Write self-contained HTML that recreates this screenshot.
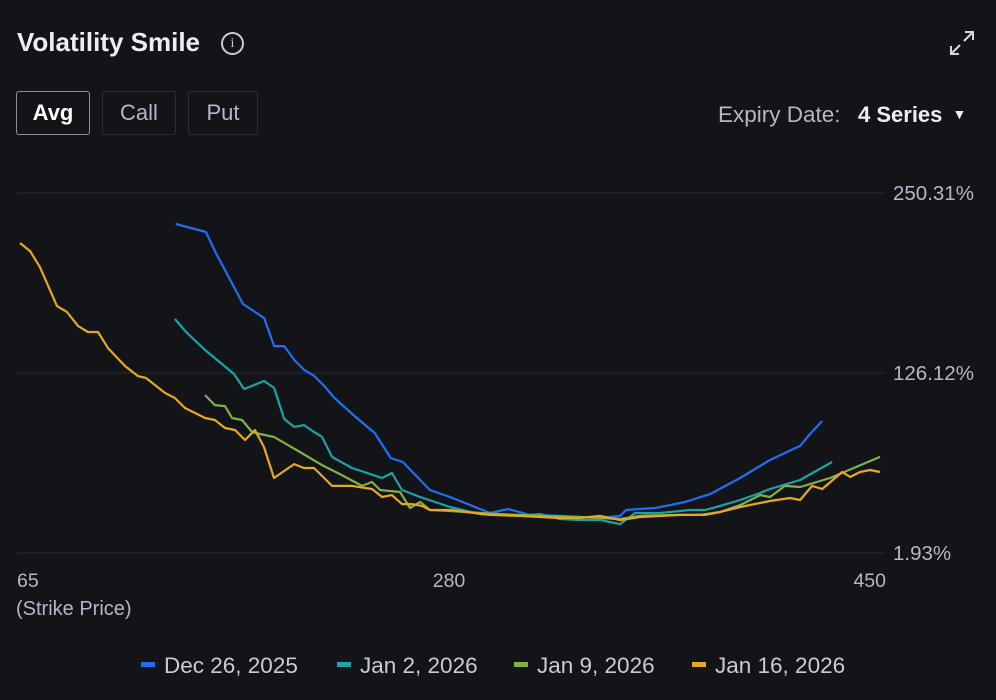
<!DOCTYPE html>
<html><head><meta charset="utf-8">
<style>
body{margin:0;background:#131418;width:996px;height:700px;overflow:hidden;font-family:"Liberation Sans",sans-serif;position:relative;color:#e8eaef}
.abs{position:absolute}
.btn{position:absolute;top:91px;height:44px;border:1.5px solid #2c2f36;border-radius:3px;box-sizing:border-box;color:#b3b8c2;font-size:22px;line-height:41px;text-align:center}
</style></head><body>
<div class="abs" style="left:17px;top:27px;font-size:26px;font-weight:bold;color:#eceef2">Volatility Smile</div>
<div class="abs" style="left:221px;top:32px;width:19px;height:19px;border:2px solid #c8ccd4;border-radius:50%;color:#c8ccd4;font-size:14px;line-height:19px;text-align:center;font-family:'Liberation Serif',serif">i</div>
<svg class="abs" style="left:948px;top:29px" width="28" height="28" viewBox="0 0 28 28"><path d="M17 3h8v8M25 3l-9 9M11 25H3v-8M3 25l9-9" stroke="#d5d8de" stroke-width="2" fill="none"/></svg>
<div class="btn" style="left:16px;width:74px;border-color:#8a9099;color:#fff;font-weight:bold">Avg</div>
<div class="btn" style="left:102px;width:74px">Call</div>
<div class="btn" style="left:188px;width:70px">Put</div>
<div class="abs" style="left:718px;top:102px;font-size:22.5px;color:#b3b8c2">Expiry Date:</div>
<div class="abs" style="left:858px;top:102px;font-size:22px;font-weight:bold;color:#eceef2">4 Series <span style="font-size:14px;position:relative;top:-3px;left:4px">▼</span></div>
<svg id="chart" class="abs" style="left:0;top:0" width="996" height="700"></svg>
<script>
const yTicks=[250.31,126.12,1.93];
const xTicks=[65,280,450];
const seriesNames=["Dec 26, 2025","Jan 2, 2026","Jan 9, 2026","Jan 16, 2026"];
const seriesColors=["#1f6ff2","#1aa3a8","#7cb342","#e8a720"];
const dec26Strikes=[144,159,164,177.5,188,193,198,203,208,213,218,223,233,243,251,257,270.5,280.4,296.2,303.3,312,323.8,339.6,347.5,349.8,355.3,361.3,367.2,373.1,383,394.8,406.6,418.5,422.4,427.2];
const dec26Values=[228.9,223.4,208.9,173.7,164.1,144.7,144.7,135.1,128.2,124.0,117.1,108.9,96.4,84.7,67.5,64.7,45.4,40.6,29.5,32.3,28.2,27.5,26.1,27.5,31.6,32.3,33.0,35.0,37.1,42.6,53.7,66.1,75.8,84.0,93.0];
const jan2Strikes=[143.6,149.1,158.6,173,178,188,193,198,202.9,207.9,212.8,216.8,221.8,231.7,246.7,251.6,256.6,265.6,280.4,292.2,300.1,308,315.9,323.8,331.7,339.6,347.5,353.4,363.2,375.1,381,386.9,394.8,402.7,406.6,418.5,431.1];
const jan2Values=[163.4,154.5,142.0,125.4,115.1,120.6,115.8,94.4,88.9,90.2,85.4,82.0,68.2,60.6,53.7,57.1,45.4,40.6,33.7,28.8,28.2,27.5,28.8,25.4,24.7,24.7,21.9,29.5,29.5,31.6,31.6,34.4,38.5,43.3,46.1,52.3,64.7];
const jan9Strikes=[158.6,163.5,168.5,172,177,182,186,193,205.8,216.8,226.7,236.7,241.7,245.7,255.6,260.6,265.6,270.5,280.4,300.1,315.9,331.7,347.5,355.3,371.1,379,386.9,394.8,402.7,406.6,412.5,418.5,430.3,450];
const jan9Values=[110.9,104.0,103.3,95.1,93.7,85.4,84.0,81.9,71.6,62.6,55.7,48.2,50.9,45.4,44.0,33.0,37.1,31.6,30.9,28.8,27.5,26.8,25.4,27.5,28.2,28.2,30.2,35.0,41.9,40.6,48.2,47.5,53.7,68.2];
const jan16Strikes=[66.5,71.5,76.4,84.9,89.9,95.4,100.3,105.3,110.3,118.8,125.2,129.2,138.7,143.6,148.6,158.6,163.5,168.5,173.5,178.5,183.4,187.9,192.9,202.9,207.8,212.8,221.8,231.7,241.7,246.7,251.6,256.6,261.6,266.6,270.5,280.4,296.2,308,315.9,323.8,331.7,339.6,347.5,355.3,371.1,381,386.9,394.8,406.6,414.5,418.5,423.2,427.2,435.1,438.2,442.1,446.1,450];
const jan16Values=[215.8,210.2,199.2,172.3,168.2,158.5,154.4,154.4,143.3,130.9,124.0,122.7,112.3,108.9,102.0,95.1,93.7,88.2,86.8,79.9,86.8,75.1,53.7,63.3,60.6,60.6,48.2,48.2,46.1,40.6,41.9,35.7,35.7,34.4,31.6,31.6,28.2,27.5,26.8,26.1,26.1,27.5,24.7,26.8,28.2,28.2,30.2,33.7,37.8,39.9,38.5,48.2,46.1,57.8,54.4,57.8,59.2,57.8];

const NS="http://www.w3.org/2000/svg";
const svg=document.getElementById('chart');
const xDom=[65,280,450], xRng=[17,449,880];
function xScale(v){const i=v<=xDom[1]?0:1;return xRng[i]+(v-xDom[i])*(xRng[i+1]-xRng[i])/(xDom[i+1]-xDom[i]);}
function yScale(v){return 553-(v-1.93)*(553-193)/(250.31-1.93);}
function mk(t,a){const e=document.createElementNS(NS,t);for(const k in a)e.setAttribute(k,a[k]);svg.appendChild(e);return e;}
yTicks.forEach((t,i)=>{
  const g=mk('line',{x1:17,x2:885,y1:yScale(t),y2:yScale(t),stroke:'#2a2d33','stroke-width':1});
  
  
  const tx=mk('text',{x:893,y:yScale(t)+7,fill:'#b3b8c2','font-size':20.5,'font-family':'Liberation Sans, sans-serif'});
  tx.textContent=t.toFixed(2)+'%';
  
  
});
xTicks.forEach((t,i)=>{
  const anchor=i===0?'start':(i===2?'end':'middle');
  const tx=mk('text',{x:i===0?17:xScale(t)+(i===2?6:0),y:587,fill:'#b3b8c2','font-size':19.5,'text-anchor':anchor,'font-family':'Liberation Sans, sans-serif'});
  tx.textContent=String(t);
  
  
});
const xt=mk('text',{x:16,y:615,fill:'#b3b8c2','font-size':20,'font-family':'Liberation Sans, sans-serif'});
xt.textContent='(Strike Price)';


const all=[[dec26Strikes,dec26Values],[jan2Strikes,jan2Values],[jan9Strikes,jan9Values],[jan16Strikes,jan16Values]];
all.forEach((s,i)=>{
  const d=s[0].map((x,j)=>(j?'L':'M')+xScale(x).toFixed(1)+','+yScale(s[1][j]).toFixed(1)).join('');
  const p=mk('path',{d:d,fill:'none',stroke:seriesColors[i],'stroke-width':2.2,'stroke-linejoin':'round'});
  
  
});
const legX=[141,337,514,692];
seriesNames.forEach((n,i)=>{
  const r=mk('rect',{x:legX[i],y:662,width:14,height:5,fill:seriesColors[i]});
  
  
  const t=mk('text',{x:legX[i]+23,y:673,fill:'#c8ccd4','font-size':22.5,'font-family':'Liberation Sans, sans-serif'});
  t.textContent=n;
  
  
});
</script>
</body></html>
